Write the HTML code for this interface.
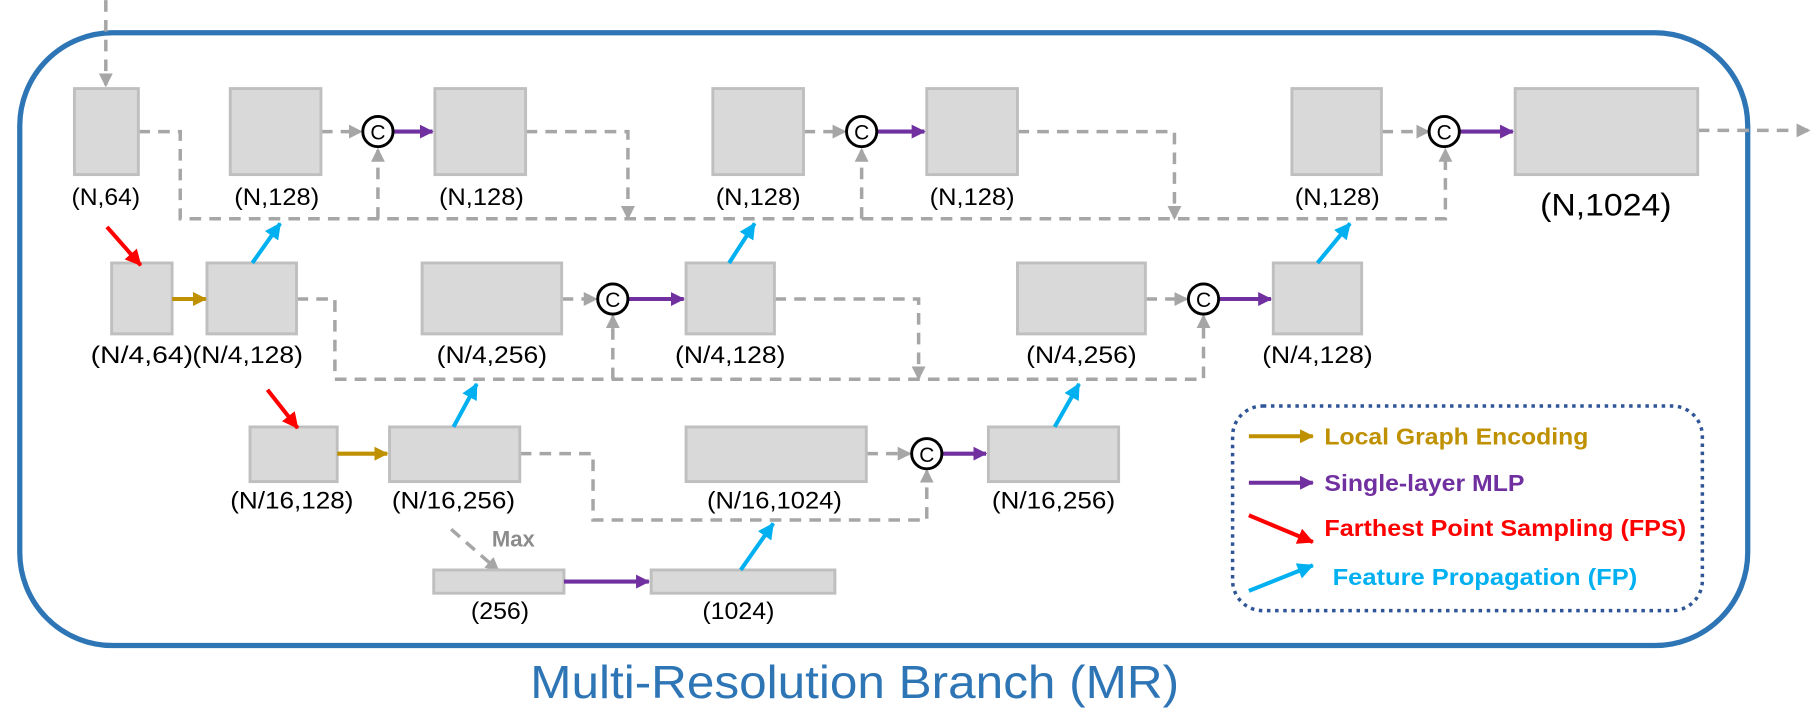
<!DOCTYPE html>
<html><head><meta charset="utf-8"><style>
html,body{margin:0;padding:0;background:#fff;}
svg{display:block;}
text{font-family:"Liberation Sans",sans-serif;}
</style></head><body>
<svg width="1814" height="712" viewBox="0 0 1560 612" xmlns="http://www.w3.org/2000/svg">
<defs>
<marker id="ag" markerWidth="12" markerHeight="12" refX="10" refY="6" orient="auto" markerUnits="userSpaceOnUse"><path d="M0,0 L12,6 L0,12Z" fill="#A6A6A6"/></marker>
<marker id="ap" markerWidth="12" markerHeight="12" refX="11" refY="6" orient="auto" markerUnits="userSpaceOnUse"><path d="M0,0 L12,6 L0,12Z" fill="#7030A0"/></marker>
<marker id="ao" markerWidth="12" markerHeight="12" refX="11" refY="6" orient="auto" markerUnits="userSpaceOnUse"><path d="M0,0 L12,6 L0,12Z" fill="#BF9000"/></marker>
<marker id="ar" markerWidth="14" markerHeight="14" refX="13" refY="7" orient="auto" markerUnits="userSpaceOnUse"><path d="M0,0 L14,7 L0,14Z" fill="#FF0000"/></marker>
<marker id="ab" markerWidth="14" markerHeight="14" refX="13" refY="7" orient="auto" markerUnits="userSpaceOnUse"><path d="M0,0 L14,7 L0,14Z" fill="#00B0F0"/></marker>
</defs>
<rect x="17" y="28" width="1486" height="527" rx="80" fill="none" stroke="#2E75B6" stroke-width="4.5"/>
<g fill="none" stroke="#A6A6A6" stroke-width="3" stroke-dasharray="10,7">
<path d="M91,0 V73" marker-end="url(#ag)"/>
<path d="M119,113 H155 V188 H1243 V129" marker-end="url(#ag)"/>
<path d="M325,188 V129" marker-end="url(#ag)"/>
<path d="M741,188 V129" marker-end="url(#ag)"/>
<path d="M276,113 H310" marker-end="url(#ag)"/>
<path d="M452,113 H540 V187" marker-end="url(#ag)"/>
<path d="M691,113 H726" marker-end="url(#ag)"/>
<path d="M875,113 H1010 V187" marker-end="url(#ag)"/>
<path d="M1188,113 H1228" marker-end="url(#ag)"/>
<path d="M1460,112 H1555" marker-end="url(#ag)"/>
<path d="M255,257 H288 V326 H1035 V272" marker-end="url(#ag)"/>
<path d="M527,326 V272" marker-end="url(#ag)"/>
<path d="M483,257 H512" marker-end="url(#ag)"/>
<path d="M666,257 H790 V325" marker-end="url(#ag)"/>
<path d="M985,257 H1020" marker-end="url(#ag)"/>
<path d="M447,390 H510 V447 H797 V405" marker-end="url(#ag)"/>
<path d="M745,390 H782" marker-end="url(#ag)"/>
<path d="M388,455 L428,490" marker-end="url(#ag)"/>
</g>
<g fill="#D9D9D9" stroke="#BFBFBF" stroke-width="2.5">
<rect x="64" y="76" width="55" height="74"/>
<rect x="198" y="76" width="78" height="74"/>
<rect x="374" y="76" width="78" height="74"/>
<rect x="613" y="76" width="78" height="74"/>
<rect x="797" y="76" width="78" height="74"/>
<rect x="1111" y="76" width="77" height="74"/>
<rect x="1303" y="76" width="157" height="74"/>
<rect x="96" y="226" width="52" height="61"/>
<rect x="178" y="226" width="77" height="61"/>
<rect x="363" y="226" width="120" height="61"/>
<rect x="590" y="226" width="76" height="61"/>
<rect x="875" y="226" width="110" height="61"/>
<rect x="1095" y="226" width="76" height="61"/>
<rect x="215" y="367" width="75" height="47"/>
<rect x="335" y="367" width="112" height="47"/>
<rect x="590" y="367" width="155" height="47"/>
<rect x="850" y="367" width="112" height="47"/>
<rect x="373" y="490" width="112" height="20"/>
<rect x="560" y="490" width="158" height="20"/>
</g>
<g stroke-width="3.5">
<path d="M338,113 H372" stroke="#7030A0" marker-end="url(#ap)"/>
<path d="M754,113 H795" stroke="#7030A0" marker-end="url(#ap)"/>
<path d="M1255,113 H1301" stroke="#7030A0" marker-end="url(#ap)"/>
<path d="M540,257 H588" stroke="#7030A0" marker-end="url(#ap)"/>
<path d="M1048,257 H1093" stroke="#7030A0" marker-end="url(#ap)"/>
<path d="M810,390 H848" stroke="#7030A0" marker-end="url(#ap)"/>
<path d="M485,500 H558" stroke="#7030A0" marker-end="url(#ap)"/>
<path d="M148,257 H177" stroke="#BF9000" marker-end="url(#ao)"/>
<path d="M290,390 H333" stroke="#BF9000" marker-end="url(#ao)"/>
<path d="M92,195 L121,228" stroke="#FF0000" marker-end="url(#ar)"/>
<path d="M230,335 L256,368" stroke="#FF0000" marker-end="url(#ar)"/>
<path d="M217,226 L241,192" stroke="#00B0F0" marker-end="url(#ab)"/>
<path d="M627,226 L649,192" stroke="#00B0F0" marker-end="url(#ab)"/>
<path d="M1133,226 L1161,192" stroke="#00B0F0" marker-end="url(#ab)"/>
<path d="M390,367 L410,330" stroke="#00B0F0" marker-end="url(#ab)"/>
<path d="M907,367 L928,330" stroke="#00B0F0" marker-end="url(#ab)"/>
<path d="M637,490 L665,450" stroke="#00B0F0" marker-end="url(#ab)"/>
</g>
<g fill="#fff" stroke="#000" stroke-width="2.5">
<circle cx="325" cy="113" r="13"/><circle cx="741" cy="113" r="13"/><circle cx="1242" cy="113" r="13"/>
<circle cx="527" cy="257" r="13"/><circle cx="1035" cy="257" r="13"/><circle cx="797" cy="390" r="13"/>
</g>
<g font-size="18" text-anchor="middle" fill="#000">
<text x="325" y="120">C</text><text x="741" y="120">C</text><text x="1242" y="120">C</text>
<text x="527" y="264">C</text><text x="1035" y="264">C</text><text x="797" y="397">C</text>
</g>
<g font-size="21" text-anchor="middle" fill="#000" lengthAdjust="spacingAndGlyphs">
<text x="91" y="176" textLength="59" lengthAdjust="spacingAndGlyphs">(N,64)</text>
<text x="238" y="176" textLength="73" lengthAdjust="spacingAndGlyphs">(N,128)</text>
<text x="414" y="176" textLength="73" lengthAdjust="spacingAndGlyphs">(N,128)</text>
<text x="652" y="176" textLength="73" lengthAdjust="spacingAndGlyphs">(N,128)</text>
<text x="836" y="176" textLength="73" lengthAdjust="spacingAndGlyphs">(N,128)</text>
<text x="1150" y="176" textLength="73" lengthAdjust="spacingAndGlyphs">(N,128)</text>
<text x="1381" y="185" font-size="27" textLength="113" lengthAdjust="spacingAndGlyphs">(N,1024)</text>
<text x="122" y="312" textLength="88" lengthAdjust="spacingAndGlyphs">(N/4,64)</text>
<text x="213" y="312" textLength="95" lengthAdjust="spacingAndGlyphs">(N/4,128)</text>
<text x="423" y="312" textLength="95" lengthAdjust="spacingAndGlyphs">(N/4,256)</text>
<text x="628" y="312" textLength="95" lengthAdjust="spacingAndGlyphs">(N/4,128)</text>
<text x="930" y="312" textLength="95" lengthAdjust="spacingAndGlyphs">(N/4,256)</text>
<text x="1133" y="312" textLength="95" lengthAdjust="spacingAndGlyphs">(N/4,128)</text>
<text x="251" y="437" textLength="106" lengthAdjust="spacingAndGlyphs">(N/16,128)</text>
<text x="390" y="437" textLength="106" lengthAdjust="spacingAndGlyphs">(N/16,256)</text>
<text x="666" y="437" textLength="116" lengthAdjust="spacingAndGlyphs">(N/16,1024)</text>
<text x="906" y="437" textLength="106" lengthAdjust="spacingAndGlyphs">(N/16,256)</text>
<text x="430" y="532" textLength="50" lengthAdjust="spacingAndGlyphs">(256)</text>
<text x="635" y="532" textLength="62" lengthAdjust="spacingAndGlyphs">(1024)</text>
</g>
<text x="423" y="470" font-size="19" font-weight="bold" fill="#8C8C8C">Max</text>
<rect x="1060" y="349" width="404" height="176" rx="26" fill="none" stroke="#2F5597" stroke-width="3" stroke-dasharray="3,4"/>
<g stroke-width="3.5">
<path d="M1074,375 H1129" stroke="#BF9000" marker-end="url(#ao)"/>
<path d="M1074,415 H1129" stroke="#7030A0" marker-end="url(#ap)"/>
<path d="M1074,443 L1129,466" stroke="#FF0000" marker-end="url(#ar)"/>
<path d="M1074,508 L1129,486" stroke="#00B0F0" marker-end="url(#ab)"/>
</g>
<g font-size="20" font-weight="bold">
<text x="1139" y="382" fill="#BF9000" textLength="227" lengthAdjust="spacingAndGlyphs">Local Graph Encoding</text>
<text x="1139" y="422" fill="#7030A0" textLength="172" lengthAdjust="spacingAndGlyphs">Single-layer MLP</text>
<text x="1139" y="461" fill="#FF0000" textLength="311" lengthAdjust="spacingAndGlyphs">Farthest Point Sampling (FPS)</text>
<text x="1146" y="503" fill="#00B0F0" textLength="262" lengthAdjust="spacingAndGlyphs">Feature Propagation (FP)</text>
</g>
<text x="456" y="600" font-size="40" fill="#2E75B6" textLength="558" lengthAdjust="spacingAndGlyphs">Multi-Resolution Branch (MR)</text>
</svg>
</body></html>
